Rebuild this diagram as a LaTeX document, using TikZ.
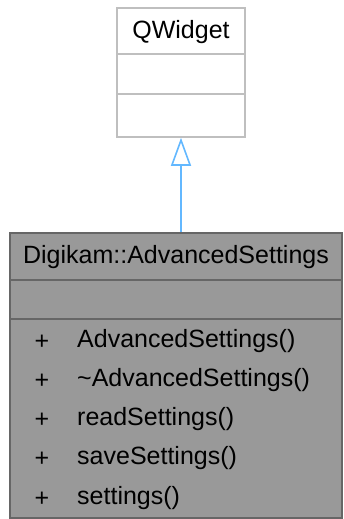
\documentclass[tikz,border=0pt]{standalone}
\usepackage{fontspec}
\setmainfont{Liberation Sans}
\usetikzlibrary{arrows.meta, positioning, calc}

\begin{document}
\begin{tikzpicture}[
    x=1pt, y=-1pt,
    every node/.style={font=\fontsize{25}{25}\selectfont, inner sep=0pt},
    basebox/.style={draw=boxline, fill=white, line width=1.6pt, minimum width=128pt, minimum height=129pt},
    classbox/.style={draw=classline, fill=classfill, line width=1.6pt, minimum width=332pt, minimum height=285pt},
    inherit/.style={draw=arrowblue, line width=1.6pt,
        -{Triangle[open, length=28pt, width=20pt, fill=white]}},
]

\definecolor{boxline}{HTML}{BFBFBF}
\definecolor{classline}{HTML}{666666}
\definecolor{classfill}{HTML}{999999}
\definecolor{arrowblue}{HTML}{63B8FF}

\useasboundingbox (0,0) rectangle (344,519);

% ---------------------------------------------------------------- base class
\node[basebox] (qwidget) at (181, 72.5) {};
\node (qwidget title) at (181, 32) {QWidget};
\draw[boxline, line width=1.6pt] (117, 54) -- (245, 54);
\draw[boxline, line width=1.6pt] (117, 94) -- (245, 94);

% ---------------------------------------------------------------- derived class
\node[classbox] (adv) at (176, 375.5) {};
\node (adv title) at (176, 257) {Digikam::AdvancedSettings};
\draw[classline, line width=1.6pt] (10, 280) -- (342, 280);
\draw[classline, line width=1.6pt] (10, 319) -- (342, 319);

\foreach \m [count=\r from 0] in {AdvancedSettings(), \textasciitilde AdvancedSettings(),
    readSettings(), saveSettings(), settings()} {
  \node (plus\r) at (42, 342+39.2*\r) {+};
  \node[anchor=west] (method\r) at (77, 342+39.2*\r) {\strut\m};
}

% ---------------------------------------------------------------- inheritance
\draw[inherit] (qwidget.south |- adv.north) -- (qwidget.south);

\end{tikzpicture}
\end{document}
